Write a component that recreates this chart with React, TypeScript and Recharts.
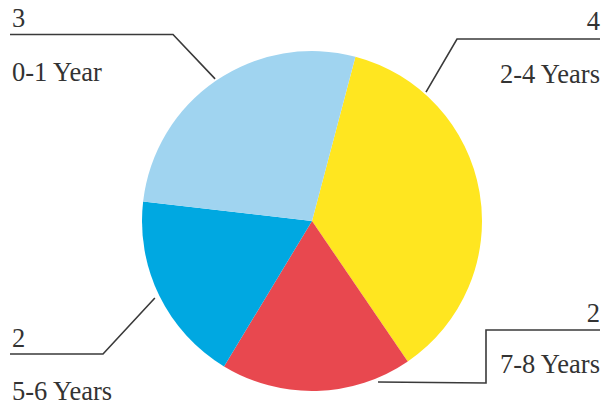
import React from 'react';
import { PieChart, Pie, Cell } from 'recharts';

const categories = ['2-4 Years', '7-8 Years', '5-6 Years', '0-1 Year'];
const values = [4, 2, 2, 3];
const colors = ['#FFE620', '#E8484F', '#00A8E1', '#A0D4F0'];

const data = categories.map((name, i) => ({ name, value: values[i] }));

type LabelLayout = {
  side: 'left' | 'right';
  x: number;
  valueY: number;
  nameY: number;
  path: number[][];
  angle?: number;
  dr: number;
};

const labelLayouts: LabelLayout[] = [
  { side: 'right', x: 600, valueY: 30, nameY: 83, path: [[600, 39], [457, 39]], angle: 48.5, dr: 2 },
  { side: 'right', x: 600, valueY: 322, nameY: 373, path: [[600, 330], [486, 330], [486, 383]], angle: -67.7, dr: 4 },
  { side: 'left', x: 12, valueY: 347, nameY: 400, path: [[10, 354], [103, 354]], dr: 5 },
  { side: 'left', x: 12, valueY: 27, nameY: 81, path: [[10, 34.5], [173, 34.5]], dr: 2 },
];

const RAD = Math.PI / 180;
const FONT = 'Liberation Serif';

const renderLabel = (props: any) => {
  const { cx, cy, midAngle, outerRadius, index, value, name } = props;
  const L = labelLayouts[index];
  const ang = L.angle !== undefined ? L.angle : midAngle;
  const r = outerRadius + L.dr;
  const ax = cx + r * Math.cos(-ang * RAD);
  const ay = cy + r * Math.sin(-ang * RAD);
  const pts = [...L.path, [ax, ay]].map((p) => p.join(',')).join(' ');
  const anchor = L.side === 'right' ? 'end' : 'start';
  return (
    <g key={`lbl-${index}`}>
      <polyline points={pts} fill="none" stroke="#3a3a3a" strokeWidth={1.6} />
      <text x={L.x} y={L.valueY} textAnchor={anchor} fontFamily={FONT} fontSize={26.5} fill="#333">{value}</text>
      <text x={L.x} y={L.nameY} textAnchor={anchor} fontFamily={FONT} fontSize={26.5} fill="#333">{name}</text>
    </g>
  );
};

export default function App() {
  return (
    <div style={{ position: 'absolute', left: 0, top: 0, width: 610, height: 407, background: '#fff' }}>
      <PieChart width={610} height={407} margin={{ top: 0, right: 0, bottom: 0, left: 0 }}>
        <Pie
          data={data}
          dataKey="value"
          nameKey="name"
          cx={312}
          cy={221}
          outerRadius={170}
          startAngle={75.2}
          endAngle={-284.8}
          stroke="none"
          label={renderLabel}
          labelLine={false}
          isAnimationActive={false}
        >
          {data.map((d, i) => (
            <Cell key={d.name} fill={colors[i]} />
          ))}
        </Pie>
      </PieChart>
    </div>
  );
}
